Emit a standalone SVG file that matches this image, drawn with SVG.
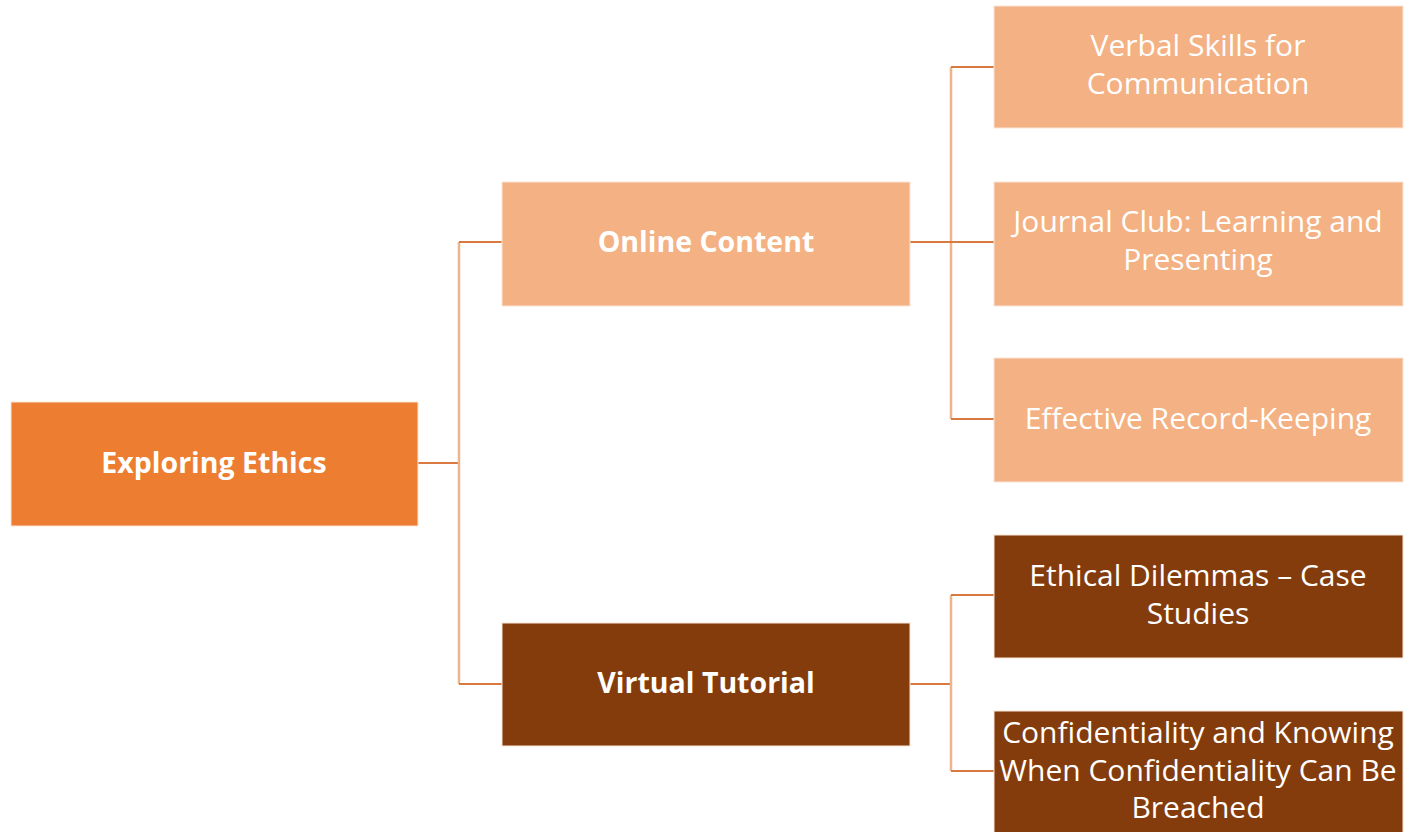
<svg xmlns="http://www.w3.org/2000/svg" width="1412" height="832" viewBox="0 0 1412 832">
<style>
.n rect{stroke:#fbe5d6;stroke-width:1}
.root rect{fill:#ED7D31}
.light rect{fill:#F4B183}
.dark rect{fill:#843C0C}
text{font-family:"Open Sans","Liberation Sans",sans-serif;fill:#fff;text-anchor:middle;font-size:30px}
.b{font-weight:bold;font-size:28.5px}
.h{stroke:#D9793F;stroke-width:2;fill:none}
.v{stroke:#EDB58E;stroke-width:2.5;fill:none}
</style>
<rect width="1412" height="832" fill="#fff"/>
<g id="connectors">
<line class="h" x1="418" y1="463" x2="459" y2="463"/>
<line class="v" x1="459" y1="242" x2="459" y2="684"/>
<line class="h" x1="459" y1="242" x2="502" y2="242"/>
<line class="h" x1="459" y1="684" x2="502" y2="684"/>
<line class="v" x1="951" y1="67" x2="951" y2="419"/>
<line class="h" x1="910" y1="242" x2="994" y2="242"/>
<line class="h" x1="951" y1="67" x2="994" y2="67"/>
<line class="h" x1="951" y1="419" x2="994" y2="419"/>
<line class="h" x1="910" y1="684" x2="951" y2="684"/>
<line class="v" x1="951" y1="595" x2="951" y2="771"/>
<line class="h" x1="951" y1="595" x2="994" y2="595"/>
<line class="h" x1="951" y1="771" x2="994" y2="771"/>
</g>
<g id="exploring-ethics" class="n root"><rect x="11" y="402" width="407" height="124"/><text class="b" x="214" y="473">Exploring Ethics</text></g>
<g id="online-content" class="n light"><rect x="502" y="182" width="408" height="124"/><text class="b" x="706" y="252">Online Content</text></g>
<g id="virtual-tutorial" class="n dark"><rect x="502" y="623" width="408" height="123"/><text class="b" x="706" y="693">Virtual Tutorial</text></g>
<g id="verbal-skills" class="n light"><rect x="994" y="6" width="409" height="122"/><text x="1198" y="56">Verbal Skills for</text><text x="1198" y="94">Communication</text></g>
<g id="journal-club" class="n light"><rect x="994" y="182" width="409" height="124"/><text x="1198" y="232">Journal Club: Learning and</text><text x="1198" y="270">Presenting</text></g>
<g id="record-keeping" class="n light"><rect x="994" y="358" width="409" height="124"/><text x="1198" y="429">Effective Record-Keeping</text></g>
<g id="ethical-dilemmas" class="n dark"><rect x="994" y="535" width="409" height="123"/><text x="1198" y="586">Ethical Dilemmas – Case</text><text x="1198" y="624">Studies</text></g>
<g id="confidentiality" class="n dark"><rect x="994" y="711" width="409" height="125"/><text x="1198" y="743">Confidentiality and Knowing</text><text x="1198" y="781">When Confidentiality Can Be</text><text x="1198" y="818">Breached</text></g>
</svg>
